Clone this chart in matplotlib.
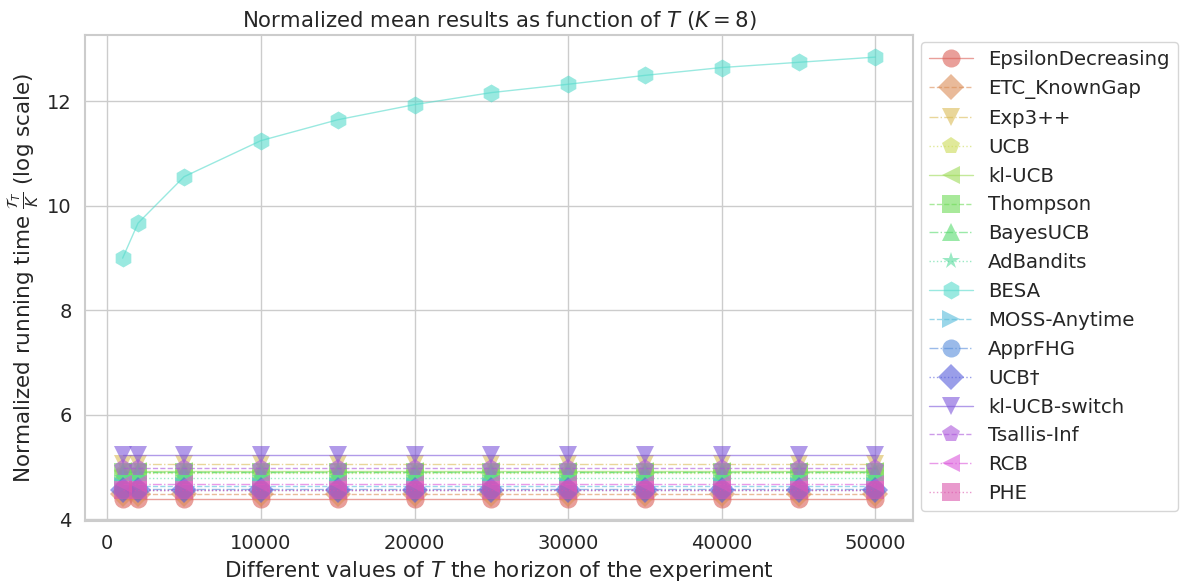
import matplotlib
matplotlib.use('Agg')

import matplotlib.pyplot as plt
import seaborn as sns

sns.set_theme(style='whitegrid')
plt.rcParams['font.family'] = 'DejaVu Sans'

horizons = [1000, 2000, 5000, 10000, 15000, 20000, 25000, 30000, 35000, 40000, 45000, 50000]

names = ['EpsilonDecreasing', 'ETC_KnownGap', 'Exp3++', 'UCB', 'kl-UCB', 'Thompson',
         'BayesUCB', 'AdBandits', 'BESA', 'MOSS-Anytime', 'ApprFHG', 'UCB†',
         'kl-UCB-switch', 'Tsallis-Inf', 'RCB', 'PHE']

eps_dec = [4.39, 4.39, 4.39, 4.39, 4.39, 4.39, 4.39, 4.39, 4.39, 4.39, 4.39, 4.39]
etc_gap = [4.49, 4.49, 4.49, 4.49, 4.49, 4.49, 4.49, 4.49, 4.49, 4.49, 4.49, 4.49]
exp3pp = [5.05, 5.05, 5.05, 5.05, 5.05, 5.05, 5.05, 5.05, 5.05, 5.05, 5.05, 5.05]
ucb = [4.88, 4.88, 4.88, 4.88, 4.88, 4.88, 4.88, 4.88, 4.88, 4.88, 4.88, 4.88]
klucb = [4.93, 4.93, 4.93, 4.93, 4.93, 4.93, 4.93, 4.93, 4.93, 4.93, 4.93, 4.93]
thompson = [4.91, 4.91, 4.91, 4.91, 4.91, 4.91, 4.91, 4.91, 4.91, 4.91, 4.91, 4.91]
bayesucb = [4.90, 4.90, 4.90, 4.90, 4.90, 4.90, 4.90, 4.90, 4.90, 4.90, 4.90, 4.90]
adbandits = [4.79, 4.79, 4.79, 4.79, 4.79, 4.79, 4.79, 4.79, 4.79, 4.79, 4.79, 4.79]
besa = [9.00, 9.67, 10.56, 11.25, 11.65, 11.94, 12.17, 12.33, 12.50, 12.65, 12.75, 12.85]
moss = [4.63, 4.63, 4.63, 4.63, 4.63, 4.63, 4.63, 4.63, 4.63, 4.63, 4.63, 4.63]
apprfhg = [4.58, 4.58, 4.58, 4.58, 4.58, 4.58, 4.58, 4.58, 4.58, 4.58, 4.58, 4.58]
ucb_dagger = [4.57, 4.57, 4.57, 4.57, 4.57, 4.57, 4.57, 4.57, 4.57, 4.57, 4.57, 4.57]
klucb_switch = [5.24, 5.24, 5.24, 5.24, 5.24, 5.24, 5.24, 5.24, 5.24, 5.24, 5.24, 5.24]
tsallis = [4.99, 4.99, 4.99, 4.99, 4.99, 4.99, 4.99, 4.99, 4.99, 4.99, 4.99, 4.99]
rcb = [4.67, 4.67, 4.67, 4.67, 4.67, 4.67, 4.67, 4.67, 4.67, 4.67, 4.67, 4.67]
phe = [4.56, 4.56, 4.56, 4.56, 4.56, 4.56, 4.56, 4.56, 4.56, 4.56, 4.56, 4.56]

series = [eps_dec, etc_gap, exp3pp, ucb, klucb, thompson, bayesucb, adbandits,
          besa, moss, apprfhg, ucb_dagger, klucb_switch, tsallis, rcb, phe]

markers = ['o', 'D', 'v', 'p', '<', 's', '^', '*', 'h', '>', 'o', 'D', 'v', 'p', '<', 's']
linestyles = ['-', '--', '-.', ':']
colors = sns.color_palette('hls', len(names) + 1)

fig = plt.figure(figsize=(11.8, 5.81), dpi=100)
ax = fig.add_axes([85 / 1180, 60 / 581, 828 / 1180, 486 / 581])

for i, (name, ys) in enumerate(zip(names, series)):
    ax.plot(horizons, ys, marker=markers[i], linestyle=linestyles[i % 4],
            color=colors[i], label=name, markersize=13, markeredgewidth=0,
            linewidth=1, alpha=0.6)

ax.set_title('Normalized mean results as function of $T$ ($K=8$)', fontsize=15.3)
ax.set_xlabel('Different values of $T$ the horizon of the experiment', fontsize=15.5)
ax.set_ylabel(r'Normalized running time $\frac{\mathcal{T}_T}{K}$ (log scale)', fontsize=15.5)
ax.tick_params(labelsize=14)
for sp in ax.spines.values():
    sp.set_color('#cccccc')
    sp.set_linewidth(1.5)

ax.legend(loc='upper left', bbox_to_anchor=(1.01, 0.985), fontsize=14.2,
          frameon=True, borderaxespad=0, labelspacing=0.5, handlelength=2.2)

plt.savefig('out.png', dpi=100, facecolor='white')
plt.close(fig)
